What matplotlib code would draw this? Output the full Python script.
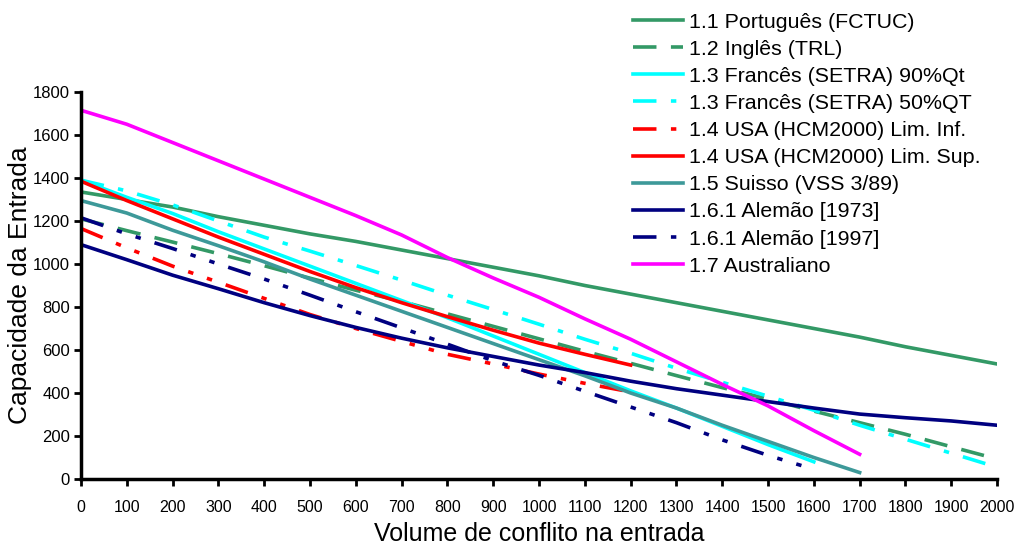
import matplotlib
matplotlib.use("Agg")
import matplotlib.pyplot as plt
import numpy as np

plt.rcParams['font.family'] = ['Liberation Sans', 'DejaVu Sans']

# conflicting flow (x) for each series
x_2000 = np.arange(0, 2001, 100)
x_1700 = np.arange(0, 1701, 100)
x_1600 = np.arange(0, 1601, 100)
x_1200 = np.arange(0, 1201, 100)

portugues = [1335, 1300, 1265, 1220, 1180, 1140, 1105, 1065, 1025, 985, 945,
             900, 860, 820, 780, 740, 700, 660, 615, 575, 535]
ingles = [1210, 1155, 1102, 1048, 992, 934, 878, 826, 768, 710, 652,
          594, 538, 481, 425, 372, 316, 262, 208, 150, 93]
setra90 = [1390, 1310, 1235, 1150, 1070, 990, 910, 830, 750, 665, 580,
           495, 410, 330, 245, 160, 80]
setra50 = [1390, 1340, 1275, 1200, 1125, 1060, 993, 925, 855, 788, 720,
           650, 585, 515, 450, 385, 320, 250, 185, 120, 55]
usa_inf = [1165, 1075, 990, 915, 840, 765, 700, 640, 580, 535, 488, 445, 405]
usa_sup = [1385, 1295, 1210, 1125, 1045, 965, 890, 820, 755, 692, 632, 580, 530]
suisso = [1295, 1237, 1157, 1085, 1010, 930, 855, 780, 705, 630, 555,
          480, 400, 330, 250, 175, 100, 30]
alemao73 = [1090, 1020, 948, 885, 820, 760, 705, 655, 610, 570, 530,
            495, 455, 420, 390, 360, 330, 302, 285, 270, 250]
alemao97 = [1215, 1140, 1072, 1000, 930, 855, 778, 703, 627, 550, 482,
            408, 335, 262, 182, 110, 45]
australiano = [1715, 1650, 1565, 1480, 1395, 1310, 1225, 1135, 1030, 935, 845,
               745, 650, 545, 440, 340, 225, 115]

green = '#339966'
teal = '#3d9999'
cyan = '#00ffff'
red = '#ff0000'
navy = '#000080'
magenta = '#ff00ff'

dash = (6.5, 4)
dash_dot = (6.5, 4, 1.5, 4)
dash_dot_dot = (6.5, 4, 1.5, 4, 1.5, 4)

fig = plt.figure(figsize=(10.15, 5.45), dpi=100)
ax = fig.add_axes([0.0798, 0.1211, 0.9025, 0.7101])

lw = 2.6
ax.plot(x_2000, portugues, color=green, lw=lw, label='1.1 Português (FCTUC)')
ax.plot(x_2000, ingles, color=green, lw=lw, dashes=dash, label='1.2 Inglês (TRL)')
ax.plot(x_1600, setra90, color=cyan, lw=lw, label='1.3 Francês (SETRA) 90%Qt')
ax.plot(x_2000, setra50, color=cyan, lw=lw, dashes=dash_dot, label='1.3 Francês (SETRA) 50%QT')
ax.plot(x_1200, usa_inf, color=red, lw=lw, dashes=dash_dot_dot, label='1.4 USA (HCM2000) Lim. Inf.')
ax.plot(x_1200, usa_sup, color=red, lw=lw, label='1.4 USA (HCM2000) Lim. Sup.')
ax.plot(x_1700, suisso, color=teal, lw=lw, label='1.5 Suisso (VSS 3/89)')
ax.plot(x_2000, alemao73, color=navy, lw=lw, label='1.6.1 Alemão [1973]')
ax.plot(x_1600, alemao97, color=navy, lw=lw, dashes=dash_dot_dot, label='1.6.1 Alemão [1997]')
ax.plot(x_1700, australiano, color=magenta, lw=lw, label='1.7 Australiano')

ax.set_xlim(0, 2000)
ax.set_ylim(0, 1800)
ax.set_xticks(np.arange(0, 2001, 100))
ax.set_yticks(np.arange(0, 1801, 200))

for s in ['top', 'right']:
    ax.spines[s].set_visible(False)
for s in ['left', 'bottom']:
    ax.spines[s].set_linewidth(2.5)
ax.tick_params(axis='both', direction='out', length=5, width=2)
ax.tick_params(axis='x', pad=10, labelsize=11.5)
ax.tick_params(axis='y', pad=3, labelsize=12)

ax.set_xlabel('Volume de conflito na entrada', fontsize=18)
ax.set_ylabel('Capacidade da Entrada', fontsize=19)
ax.xaxis.set_label_coords(0.5, -0.110)
ax.yaxis.set_label_coords(-0.053, 0.5)

fig.legend(loc='upper left', bbox_to_anchor=(0.6236, 0.977), frameon=False,
           fontsize=15.4, handlelength=2.35, handletextpad=0.28, labelspacing=0.38,
           borderpad=0, borderaxespad=0)

fig.savefig('out.png', dpi=100)
